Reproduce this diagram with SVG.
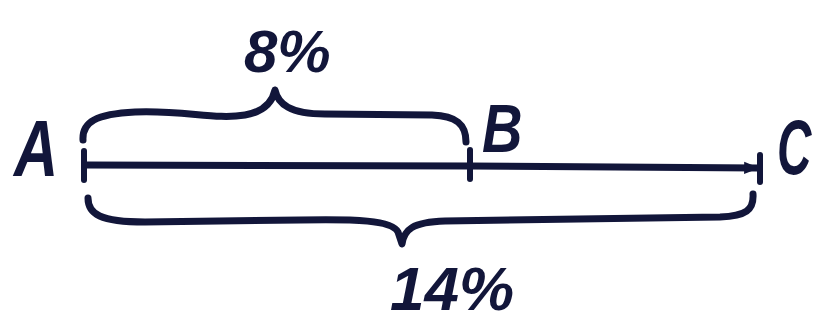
<svg xmlns="http://www.w3.org/2000/svg" width="815" height="327" viewBox="0 0 815 327">
<style>
.ink{fill:none;stroke:#12163a;stroke-linecap:round;stroke-linejoin:round}
.brace{stroke-width:7}
.axis{stroke-width:7}
.tick{stroke-width:6}
.lbl{font-family:"Liberation Sans",Arial,sans-serif;font-style:italic;font-weight:bold;fill:#12163a}
</style>
<defs>
<marker id="arr" viewBox="0 0 10 10" refX="9" refY="5" markerWidth="2.2" markerHeight="2.2" orient="auto" markerUnits="strokeWidth">
<path d="M0,1 L10,5 L0,9 Z" fill="#12163a"/>
</marker>
</defs>
<rect width="815" height="327" fill="#ffffff"/>
<g id="connectors">
<path class="ink axis" d="M86,165 L470,166 L758,168" marker-end="url(#arr)"/>
<path class="ink tick" d="M84,151 L84,180"/>
<path class="ink tick" d="M470,150 L470,179"/>
<path class="ink tick" d="M760,155 L760,182"/>
<path class="ink brace" d="M83,140 C82,122 96,114 135,112 C185,110 215,120 245,115 C262,112 272,104 275,90 C278,104 290,114 325,114 L432,115 C456,116 466,124 466,142"/>
<path class="ink brace" d="M88,198 C88,214 100,222 145,222 L300,220 C355,219 392,220 398,232 L402,244 C404,230 412,222 445,221 L720,217 C746,216 754,210 753,194"/>
</g>
<g id="node-A"><text class="lbl" x="14" y="176" font-size="72" transform="translate(14,176) scale(0.85,1.1) translate(-14,-176)">A</text></g>
<g id="node-B"><text class="lbl" x="482" y="152" font-size="66" transform="translate(482,152) scale(0.85,1.05) translate(-482,-152)">B</text></g>
<g id="node-C"><text class="lbl" x="777" y="174" font-size="70" transform="translate(777,174) scale(0.68,1.1) translate(-777,-174)">C</text></g>
<g id="label-8"><text class="lbl" x="244" y="72" font-size="60">8%</text></g>
<g id="label-14"><text class="lbl" x="390" y="310" font-size="62">14%</text></g>
</svg>
